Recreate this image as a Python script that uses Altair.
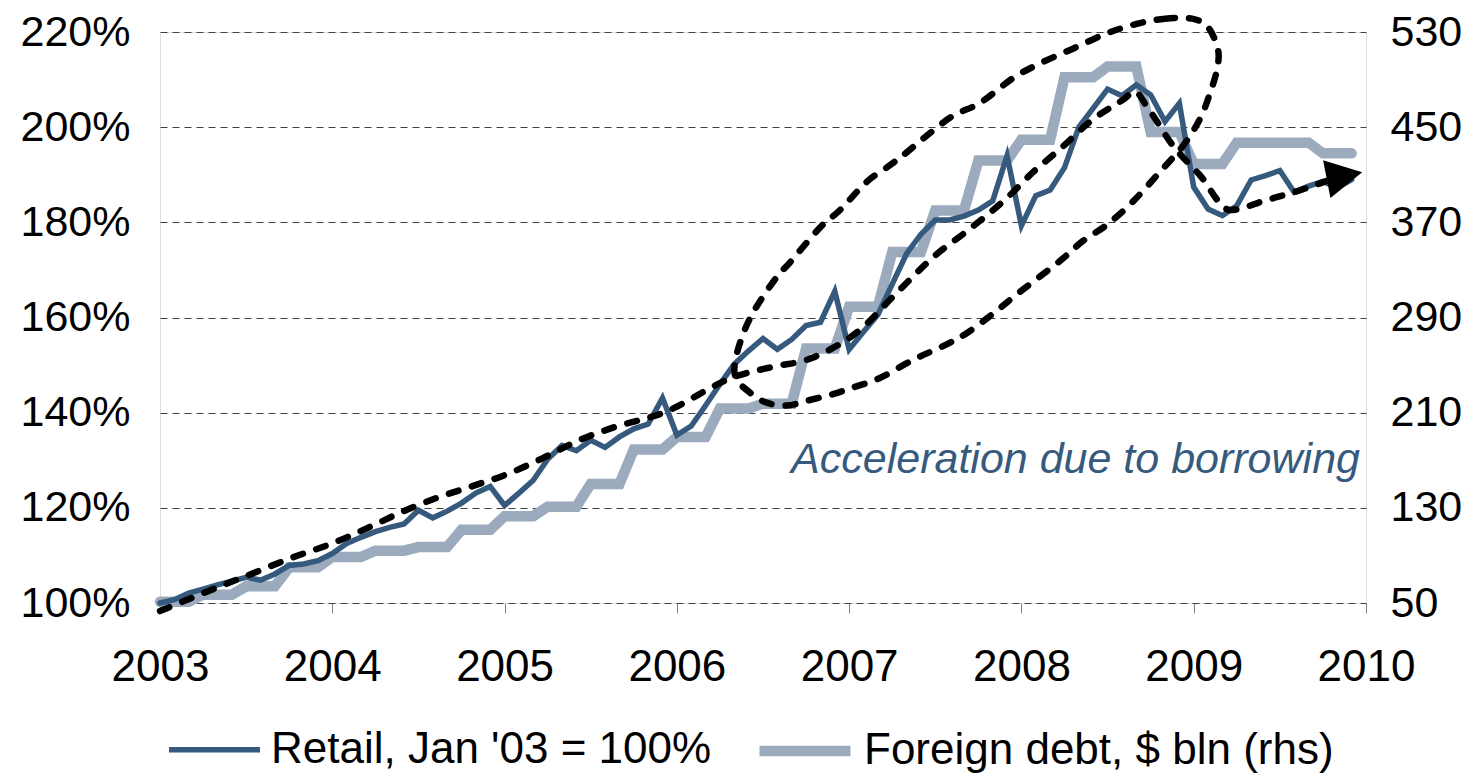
import altair as alt
import pandas as pd

FONT = "Liberation Sans"
DARK = "#365a7d"
LIGHT = "#9babbd"

# ---- data ----
# Retail index, Jan 2003 = 100, monthly Jan 2003 .. Dec 2009
retail = [
    100.0, 100.7, 102.1, 102.9, 103.8, 104.6, 105.4, 104.8, 106.1, 107.9, 108.2, 108.9,
    110.4, 112.5, 113.8, 115.0, 115.9, 116.6, 119.5, 117.9, 119.3, 121.0, 123.1, 124.5,
    120.5, 123.1, 125.8, 130.2, 133.1, 132.0, 134.2, 132.7, 134.9, 136.6, 137.6, 143.1,
    135.3, 137.2, 141.5, 146.0, 150.2, 153.0, 155.6, 153.3, 155.4, 158.3, 159.0, 165.5,
    153.3, 157.0, 160.6, 167.0, 173.4, 177.5, 180.5, 180.5, 181.3, 182.6, 184.5, 194.0,
    179.3, 185.6, 186.8, 191.5, 200.0, 204.0, 208.0, 206.6, 208.9, 206.8, 201.2, 205.0,
    187.4, 182.8, 181.4, 183.5, 188.9, 189.8, 190.9, 186.3, 187.6, 188.6, 187.3, 189.0,
]
# Foreign debt, $ bln, quarterly (each quarter held for its three months)
debt_quarterly = [
    51, 57, 64, 80,
    88.6, 94, 97, 111.5,
    123, 131, 150, 179,
    189.5, 213.6, 217.6, 264,
    299, 345, 380, 422,
    439.5, 492, 501, 446,
    419, 437, 437, 428,
]
month_index = list(range(84))
series_names = ["Retail, Jan '03 = 100%", "Foreign debt, $ bln (rhs)"]
series_colors = [DARK, LIGHT]
series_widths = [5.5, 10.5]

# annotation: dashed trend path (year, %)
trend_t = [2003.0, 2003.233, 2003.502, 2003.772, 2003.998, 2004.225, 2004.433, 2004.6,
           2004.808, 2005.017, 2005.225, 2005.433, 2005.633, 2005.902, 2006.347, 2006.580,
           2006.754, 2006.906, 2007.063, 2007.255, 2007.508, 2007.682, 2007.915, 2008.069,
           2008.224, 2008.417, 2008.591, 2008.659, 2008.727, 2008.880, 2009.036, 2009.211,
           2009.424, 2009.588, 2009.733, 2009.803]
trend_v = [98.3, 101.8, 105.7, 109.6, 112.5, 116.1, 119.6, 122.0,
           124.5, 127.1, 130.5, 134.2, 136.9, 139.7, 147.7, 149.8,
           151.1, 153.6, 157.4, 164.4, 173.3, 178.1, 185.1, 190.6,
           195.4, 201.7, 205.8, 207.5, 204.4, 196.1, 189.9, 182.6,
           184.7, 186.4, 188.2, 189.1]
# annotation: dashed ellipse (year, %)
ell_t = [2008.669, 2008.833, 2008.990, 2009.083, 2009.141, 2009.135, 2009.095, 2009.036,
         2008.938, 2008.804, 2008.648, 2008.497, 2008.357, 2008.224, 2007.992, 2007.835,
         2007.682, 2007.545, 2007.371, 2007.179, 2007.022, 2006.906, 2006.754, 2006.638,
         2006.521, 2006.425, 2006.347, 2006.337, 2006.386, 2006.463, 2006.580, 2006.657,
         2006.831, 2006.947, 2007.102, 2007.237, 2007.334, 2007.450, 2007.603, 2007.760,
         2007.951, 2008.108, 2008.299, 2008.495]
ell_v = [221.7, 222.8, 222.8, 221.0, 216.3, 212.1, 207.2, 201.7,
         196.1, 190.6, 184.4, 179.5, 176.1, 171.9, 165.4, 160.8,
         156.7, 154.0, 151.1, 147.3, 145.3, 143.9, 142.5, 141.5,
         142.1, 144.2, 147.0, 150.5, 156.7, 162.3, 168.5, 171.6,
         178.9, 182.6, 188.5, 192.0, 194.7, 198.2, 202.4, 205.1,
         210.3, 213.4, 216.5, 219.7]
arrow_t = [2009.875]
arrow_v = [189.8]
note_text = ["Acceleration due to borrowing"]
note_t = [2009.965]
note_v = [127.4]

left_ticks = [100, 120, 140, 160, 180, 200, 220]
right_ticks = [50, 130, 210, 290, 370, 450, 530]
year_ticks = list(range(2003, 2011))

# ---- tables ----
years = [2003 + m / 12 for m in month_index]
debt = [v for v in debt_quarterly for _ in range(3)]
df_retail = pd.DataFrame({"t": years, "v": retail, "series": series_names[0]})
df_debt = pd.DataFrame({"t": years, "v": debt, "series": series_names[1]})
df_trend = pd.DataFrame({"t": trend_t, "v": trend_v})
df_ell = pd.DataFrame({"t": ell_t, "v": ell_v, "o": list(range(len(ell_t)))})
df_arrow = pd.DataFrame({"t": arrow_t, "v": arrow_v})
df_note = pd.DataFrame({"t": note_t, "v": note_v, "label": note_text})

# ---- encodings ----
x_enc = alt.X(
    "t:Q",
    scale=alt.Scale(domain=[2003, 2010], nice=False, zero=False),
    axis=alt.Axis(values=year_ticks, format="d", title=None, grid=False, domain=False,
                  ticks=True, tickSize=10, tickColor="#808080", tickWidth=1,
                  labelFontSize=44, labelPadding=32, labelFlush=False,
                  labelOverlap=False, labelColor="black", labelFont=FONT),
)
left_scale = alt.Scale(domain=[100, 220], nice=False, zero=False)
y_left = alt.Y(
    "v:Q", scale=left_scale,
    axis=alt.Axis(orient="left", values=left_ticks, labelExpr="datum.value + '%'",
                  title=None, domain=False, ticks=False, grid=True, gridDash=[7, 5],
                  gridColor="#404040", gridWidth=1, labelFontSize=43, labelPadding=30,
                  labelColor="black", labelFont=FONT),
)
y_right = alt.Y(
    "v:Q", scale=alt.Scale(domain=[50, 530], nice=False, zero=False),
    axis=alt.Axis(orient="right", values=right_ticks, format="d", title=None,
                  domain=False, ticks=False, grid=False, labelFontSize=43,
                  labelPadding=24, labelColor="black", labelFont=FONT),
)
legend_def = alt.Legend(
    title=None, orient="none", legendX=6, legendY=668, direction="horizontal",
    symbolType="stroke", symbolSize=8281, labelFontSize=44, labelFont=FONT,
    labelColor="black", labelOffset=8, columnPadding=26, padding=0,
    labelLimit=1000,
)
color_enc = alt.Color("series:N", scale=alt.Scale(domain=series_names, range=series_colors),
                      legend=legend_def)
width_enc = alt.StrokeWidth("series:N", scale=alt.Scale(domain=series_names, range=series_widths),
                            legend=legend_def)

debt_layer = alt.Chart(df_debt).mark_line(strokeCap="round").encode(
    x=x_enc, y=y_right, color=color_enc, strokeWidth=width_enc)
retail_layer = alt.Chart(df_retail).mark_line(strokeCap="round").encode(
    x=x_enc, y=y_left, color=color_enc, strokeWidth=width_enc)

dash_style = dict(color="black", strokeWidth=6.5, strokeDash=[10, 14], strokeCap="round")
trend_layer = alt.Chart(df_trend).mark_line(interpolate="monotone", **dash_style).encode(
    x=x_enc, y=y_left)
ell_layer = alt.Chart(df_ell).mark_line(interpolate="cardinal-closed", **dash_style).encode(
    x=x_enc, y=y_left, order="o:Q")
arrow_layer = alt.Chart(df_arrow).mark_point(
    shape="M-1,-1.07L1,0L-1,1.07Z", filled=True, color="black", opacity=1,
    size=1300, angle=349).encode(x=x_enc, y=y_left)
note_layer = alt.Chart(df_note).mark_text(
    align="right", baseline="alphabetic", fontSize=43, fontStyle="italic",
    font=FONT, color=DARK).encode(x=x_enc, y=y_left, text="label:N")

left_group = alt.layer(retail_layer, trend_layer, ell_layer, arrow_layer, note_layer)

chart = alt.layer(debt_layer, left_group).resolve_scale(y="independent").properties(
    width=1206, height=571,
    autosize=alt.AutoSizeParams(type="none"),
    padding={"left": 152, "top": 24, "right": 100, "bottom": 170},
).configure_view(stroke=None).configure(font=FONT)

chart.save("out.html", embed_options={"renderer": "svg", "actions": False})
